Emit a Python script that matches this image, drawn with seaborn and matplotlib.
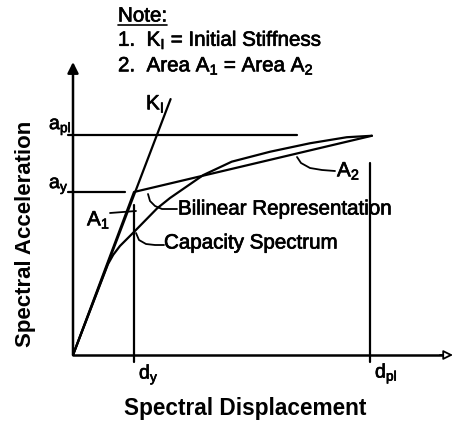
import matplotlib
matplotlib.use("Agg")
import matplotlib.pyplot as plt
import matplotlib.patheffects as pe
import seaborn as sns
import pandas as pd

# ---- data (normalised units: d_y = 1, a_y = 1) ----
cap_sd = [0, 0.574, 0.66, 0.77, 1.016, 1.38, 1.59, 2.136, 2.602, 3.23, 3.885, 4.487, 4.90]
cap_sa = [0, 0.558, 0.615, 0.669, 0.761, 0.90, 0.963, 1.104, 1.186, 1.247, 1.299, 1.336, 1.345]
bil_sd = [0, 1.0, 4.90]
bil_sa = [0, 1.0, 1.345]
ki_sd = [0, 1.60]
ki_sa = [0, 1.57]
d_y, d_pl = 1.0, 4.87
a_y, a_pl = 1.0, 1.35

sns.set_style("white")
plt.rcParams["font.family"] = ["Liberation Sans", "DejaVu Sans"]
plt.rcParams["mathtext.fontset"] = "custom"
plt.rcParams["mathtext.rm"] = "Liberation Sans"
plt.rcParams["mathtext.it"] = "Liberation Sans"
plt.rcParams["mathtext.bf"] = "Liberation Sans:bold"

PXX, PXY = 61.0, 163.0  # pixels per unit
OX, OY = 73.0, 355.0


def P(px, py):
    return ((px - OX) / PXX, (OY - py) / PXY)


fig = plt.figure(figsize=(4.53, 4.21), dpi=100)
ax = fig.add_axes([0, 0, 1, 1])
ax.set_xlim(-OX / PXX, (453 - OX) / PXX)
ax.set_ylim(-(421 - OY) / PXY, OY / PXY)
ax.axis("off")

lw = 1.6
k = "black"
cap = pd.DataFrame({"sd": cap_sd, "sa": cap_sa})
bil = pd.DataFrame({"sd": bil_sd, "sa": bil_sa})
ki = pd.DataFrame({"sd": ki_sd, "sa": ki_sa})
for df in (cap, bil, ki):
    sns.lineplot(data=df, x="sd", y="sa", sort=False, estimator=None,
                 color=k, lw=lw, ax=ax, legend=False)

# guide lines
ax.plot([-0.08, 3.67], [a_pl, a_pl], color=k, lw=lw)
ax.plot([-0.08, 0.85], [a_y, a_y], color=k, lw=lw)
ax.plot([d_y, d_y], [-0.045, 0.92], color=k, lw=lw)
ax.plot([d_pl, d_pl], [-0.045, 1.18], color=k, lw=lw)

# axes with arrows
ax.annotate("", xy=P(73, 62), xytext=(0, 0),
            arrowprops=dict(arrowstyle="-|>", lw=lw + 0.2, color=k,
                            mutation_scale=16, shrinkA=0, shrinkB=0))
ax.plot([0, P(443, 0)[0]], [0, 0], color=k, lw=lw + 0.2)
ax.annotate("", xy=P(453, OY), xytext=P(440, OY),
            arrowprops=dict(arrowstyle="-|>", lw=1.3, ec=k, fc="white",
                            mutation_scale=14, shrinkA=0, shrinkB=0))

# leader lines
def leader(pts):
    xs, ys = zip(*[P(*p) for p in pts])
    ax.plot(xs, ys, color=k, lw=1.3)

leader([(110, 213), (136, 211)])
leader([(148, 194), (150, 201), (155, 206), (162, 209), (177, 209)])
leader([(136, 233), (139, 240), (146, 244), (155, 245), (164, 245)])
leader([(297, 157), (301, 163), (310, 168), (322, 170), (335, 171)])

fs = 14.8
thick = [pe.withStroke(linewidth=0.5, foreground=k)]

def T(px, py, s, **kw):
    x, y = P(px, py)
    return ax.text(x, y, s, fontsize=kw.pop("fontsize", fs), color=k,
                   path_effects=kw.pop("path_effects", thick), **kw)

T(118, 16, "Note:", ha="left", va="center")
nx0, ny0 = P(118, 25)
nx1, _ = P(167, 25)
ax.plot([nx0, nx1], [ny0, ny0], color=k, lw=1.2)
T(118, 40, r"1.  K$_\mathrm{I}$ = Initial Stiffness", ha="left", va="center")
T(118, 66, r"2.  Area A$_\mathrm{1}$ = Area A$_\mathrm{2}$", ha="left", va="center")

T(146, 104, r"K$_\mathrm{I}$", ha="left", va="center")
T(49, 127, r"a$_\mathrm{pl}$", ha="left", va="center", fontsize=14)
T(49, 186, r"a$_\mathrm{y}$", ha="left", va="center", fontsize=14)
T(87, 220, r"A$_\mathrm{1}$", ha="left", va="center")
T(178, 209, "Bilinear Representation", ha="left", va="center")
T(164, 243, "Capacity Spectrum", ha="left", va="center")
T(337, 171, r"A$_\mathrm{2}$", ha="left", va="center")
T(139, 375, r"d$_\mathrm{y}$", ha="left", va="center", fontsize=14)
T(375, 374, r"d$_\mathrm{pl}$", ha="left", va="center", fontsize=14)

T(245, 408, "Spectral Displacement", ha="center", va="center",
  fontweight="bold", fontsize=16.3, path_effects=[])
T(26, 234, "Spectral Acceleration", ha="center", va="center",
  fontweight="bold", fontsize=16, rotation=90, path_effects=[])

fig.savefig("out.png", dpi=100)
